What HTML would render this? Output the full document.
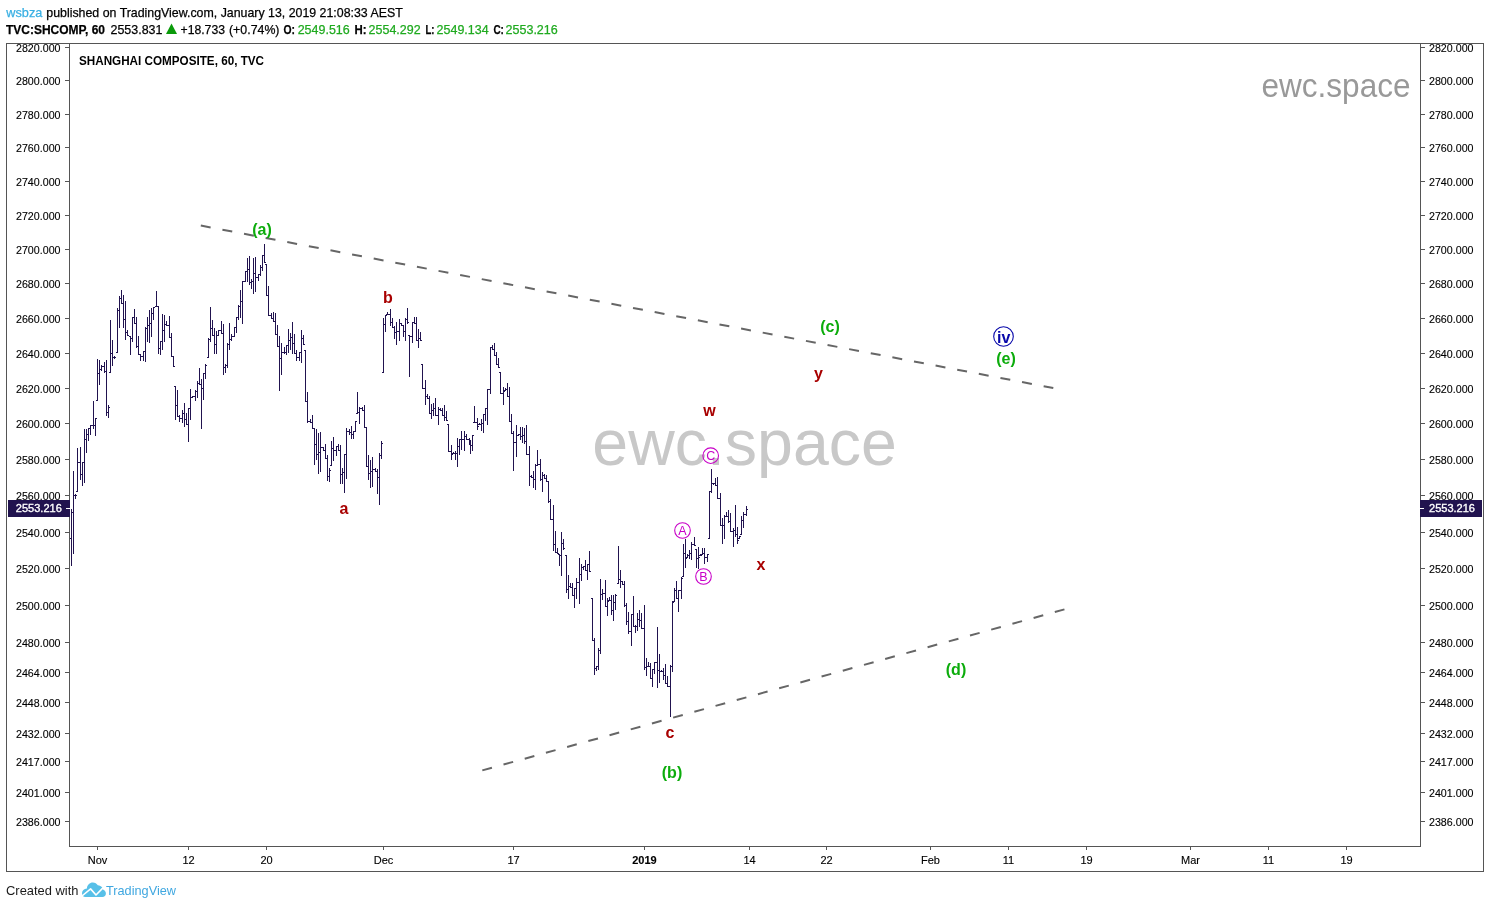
<!DOCTYPE html>
<html lang="en"><head><meta charset="utf-8"><title>TVC:SHCOMP chart by wsbza</title>
<style>html,body{margin:0;padding:0;background:#fff}body{width:1490px;height:908px;overflow:hidden}svg{display:block}text{font-family:"Liberation Sans",sans-serif}.ax{font-size:11px;fill:#000;stroke:#000;stroke-width:.12px}.hd{font-size:13px;fill:#000;stroke:#000;stroke-width:.25px}.b{font-weight:bold}.g{fill:#1faa1f;stroke:#1faa1f}.wave{font-size:16px;font-weight:bold}.circ{font-size:12.5px;fill:#c800c8}</style></head><body>
<svg width="1490" height="908" viewBox="0 0 1490 908">
<rect width="1490" height="908" fill="#ffffff"/>
<text x="6.3" y="16.5" class="hd" textLength="36" lengthAdjust="spacingAndGlyphs" style="fill:#38afe3;stroke:#38afe3">wsbza</text>
<text x="46.3" y="16.5" class="hd" textLength="356.5" lengthAdjust="spacingAndGlyphs">published on TradingView.com, January 13, 2019 21:08:33 AEST</text>
<text x="6" y="33.5" class="hd b" textLength="99" lengthAdjust="spacingAndGlyphs">TVC:SHCOMP, 60</text>
<text x="110.5" y="33.5" class="hd" textLength="52" lengthAdjust="spacingAndGlyphs">2553.831</text>
<path d="M171.5 23.5 L177 34 L166 34 Z" fill="#0a9a0a"/>
<text x="180.5" y="33.5" class="hd" textLength="44.5" lengthAdjust="spacingAndGlyphs">+18.733</text>
<text x="229" y="33.5" class="hd" textLength="50.5" lengthAdjust="spacingAndGlyphs">(+0.74%)</text>
<text x="283.5" y="33.5" class="hd b" textLength="11.5" lengthAdjust="spacingAndGlyphs">O:</text>
<text x="297.7" y="33.5" class="hd g" textLength="52" lengthAdjust="spacingAndGlyphs">2549.516</text>
<text x="354.5" y="33.5" class="hd b" textLength="12" lengthAdjust="spacingAndGlyphs">H:</text>
<text x="368.6" y="33.5" class="hd g" textLength="52" lengthAdjust="spacingAndGlyphs">2554.292</text>
<text x="425.4" y="33.5" class="hd b" textLength="9" lengthAdjust="spacingAndGlyphs">L:</text>
<text x="436.6" y="33.5" class="hd g" textLength="52" lengthAdjust="spacingAndGlyphs">2549.134</text>
<text x="493.4" y="33.5" class="hd b" textLength="10.5" lengthAdjust="spacingAndGlyphs">C:</text>
<text x="505.5" y="33.5" class="hd g" textLength="52.3" lengthAdjust="spacingAndGlyphs">2553.216</text>
<g fill="none" stroke="#555555" stroke-width="1" shape-rendering="crispEdges">
<rect x="6.5" y="43.5" width="1477" height="828"/>
<path d="M69.5 43.5V846.5H1420.5V43.5"/>
<path d="M65 47.5H69M1421 47.5H1425M65 80.5H69M1421 80.5H1425M65 114.5H69M1421 114.5H1425M65 147.5H69M1421 147.5H1425M65 181.5H69M1421 181.5H1425M65 215.5H69M1421 215.5H1425M65 249.5H69M1421 249.5H1425M65 283.5H69M1421 283.5H1425M65 318.5H69M1421 318.5H1425M65 353.5H69M1421 353.5H1425M65 388.5H69M1421 388.5H1425M65 423.5H69M1421 423.5H1425M65 459.5H69M1421 459.5H1425M65 495.5H69M1421 495.5H1425M65 532.5H69M1421 532.5H1425M65 568.5H69M1421 568.5H1425M65 605.5H69M1421 605.5H1425M65 642.5H69M1421 642.5H1425M65 672.5H69M1421 672.5H1425M65 702.5H69M1421 702.5H1425M65 733.5H69M1421 733.5H1425M65 761.5H69M1421 761.5H1425M65 792.5H69M1421 792.5H1425M65 821.5H69M1421 821.5H1425"/>
<path d="M97.5 847V850M188.5 847V850M266.5 847V850M383.5 847V850M513.5 847V850M644.5 847V850M749.5 847V850M826.5 847V850M930.5 847V850M1008.5 847V850M1086.5 847V850M1190.5 847V850M1268.5 847V850M1346.5 847V850"/>
</g>
<text x="60.5" y="52.0" class="ax" text-anchor="end" textLength="44.5" lengthAdjust="spacingAndGlyphs">2820.000</text>
<text x="1429" y="52.0" class="ax" textLength="44.5" lengthAdjust="spacingAndGlyphs">2820.000</text>
<text x="60.5" y="85.0" class="ax" text-anchor="end" textLength="44.5" lengthAdjust="spacingAndGlyphs">2800.000</text>
<text x="1429" y="85.0" class="ax" textLength="44.5" lengthAdjust="spacingAndGlyphs">2800.000</text>
<text x="60.5" y="119.0" class="ax" text-anchor="end" textLength="44.5" lengthAdjust="spacingAndGlyphs">2780.000</text>
<text x="1429" y="119.0" class="ax" textLength="44.5" lengthAdjust="spacingAndGlyphs">2780.000</text>
<text x="60.5" y="152.0" class="ax" text-anchor="end" textLength="44.5" lengthAdjust="spacingAndGlyphs">2760.000</text>
<text x="1429" y="152.0" class="ax" textLength="44.5" lengthAdjust="spacingAndGlyphs">2760.000</text>
<text x="60.5" y="186.0" class="ax" text-anchor="end" textLength="44.5" lengthAdjust="spacingAndGlyphs">2740.000</text>
<text x="1429" y="186.0" class="ax" textLength="44.5" lengthAdjust="spacingAndGlyphs">2740.000</text>
<text x="60.5" y="220.0" class="ax" text-anchor="end" textLength="44.5" lengthAdjust="spacingAndGlyphs">2720.000</text>
<text x="1429" y="220.0" class="ax" textLength="44.5" lengthAdjust="spacingAndGlyphs">2720.000</text>
<text x="60.5" y="254.0" class="ax" text-anchor="end" textLength="44.5" lengthAdjust="spacingAndGlyphs">2700.000</text>
<text x="1429" y="254.0" class="ax" textLength="44.5" lengthAdjust="spacingAndGlyphs">2700.000</text>
<text x="60.5" y="288.0" class="ax" text-anchor="end" textLength="44.5" lengthAdjust="spacingAndGlyphs">2680.000</text>
<text x="1429" y="288.0" class="ax" textLength="44.5" lengthAdjust="spacingAndGlyphs">2680.000</text>
<text x="60.5" y="323.0" class="ax" text-anchor="end" textLength="44.5" lengthAdjust="spacingAndGlyphs">2660.000</text>
<text x="1429" y="323.0" class="ax" textLength="44.5" lengthAdjust="spacingAndGlyphs">2660.000</text>
<text x="60.5" y="358.0" class="ax" text-anchor="end" textLength="44.5" lengthAdjust="spacingAndGlyphs">2640.000</text>
<text x="1429" y="358.0" class="ax" textLength="44.5" lengthAdjust="spacingAndGlyphs">2640.000</text>
<text x="60.5" y="393.0" class="ax" text-anchor="end" textLength="44.5" lengthAdjust="spacingAndGlyphs">2620.000</text>
<text x="1429" y="393.0" class="ax" textLength="44.5" lengthAdjust="spacingAndGlyphs">2620.000</text>
<text x="60.5" y="428.0" class="ax" text-anchor="end" textLength="44.5" lengthAdjust="spacingAndGlyphs">2600.000</text>
<text x="1429" y="428.0" class="ax" textLength="44.5" lengthAdjust="spacingAndGlyphs">2600.000</text>
<text x="60.5" y="464.0" class="ax" text-anchor="end" textLength="44.5" lengthAdjust="spacingAndGlyphs">2580.000</text>
<text x="1429" y="464.0" class="ax" textLength="44.5" lengthAdjust="spacingAndGlyphs">2580.000</text>
<text x="60.5" y="500.0" class="ax" text-anchor="end" textLength="44.5" lengthAdjust="spacingAndGlyphs">2560.000</text>
<text x="1429" y="500.0" class="ax" textLength="44.5" lengthAdjust="spacingAndGlyphs">2560.000</text>
<text x="60.5" y="537.0" class="ax" text-anchor="end" textLength="44.5" lengthAdjust="spacingAndGlyphs">2540.000</text>
<text x="1429" y="537.0" class="ax" textLength="44.5" lengthAdjust="spacingAndGlyphs">2540.000</text>
<text x="60.5" y="573.0" class="ax" text-anchor="end" textLength="44.5" lengthAdjust="spacingAndGlyphs">2520.000</text>
<text x="1429" y="573.0" class="ax" textLength="44.5" lengthAdjust="spacingAndGlyphs">2520.000</text>
<text x="60.5" y="610.0" class="ax" text-anchor="end" textLength="44.5" lengthAdjust="spacingAndGlyphs">2500.000</text>
<text x="1429" y="610.0" class="ax" textLength="44.5" lengthAdjust="spacingAndGlyphs">2500.000</text>
<text x="60.5" y="647.0" class="ax" text-anchor="end" textLength="44.5" lengthAdjust="spacingAndGlyphs">2480.000</text>
<text x="1429" y="647.0" class="ax" textLength="44.5" lengthAdjust="spacingAndGlyphs">2480.000</text>
<text x="60.5" y="677.0" class="ax" text-anchor="end" textLength="44.5" lengthAdjust="spacingAndGlyphs">2464.000</text>
<text x="1429" y="677.0" class="ax" textLength="44.5" lengthAdjust="spacingAndGlyphs">2464.000</text>
<text x="60.5" y="707.0" class="ax" text-anchor="end" textLength="44.5" lengthAdjust="spacingAndGlyphs">2448.000</text>
<text x="1429" y="707.0" class="ax" textLength="44.5" lengthAdjust="spacingAndGlyphs">2448.000</text>
<text x="60.5" y="738.0" class="ax" text-anchor="end" textLength="44.5" lengthAdjust="spacingAndGlyphs">2432.000</text>
<text x="1429" y="738.0" class="ax" textLength="44.5" lengthAdjust="spacingAndGlyphs">2432.000</text>
<text x="60.5" y="766.0" class="ax" text-anchor="end" textLength="44.5" lengthAdjust="spacingAndGlyphs">2417.000</text>
<text x="1429" y="766.0" class="ax" textLength="44.5" lengthAdjust="spacingAndGlyphs">2417.000</text>
<text x="60.5" y="797.0" class="ax" text-anchor="end" textLength="44.5" lengthAdjust="spacingAndGlyphs">2401.000</text>
<text x="1429" y="797.0" class="ax" textLength="44.5" lengthAdjust="spacingAndGlyphs">2401.000</text>
<text x="60.5" y="826.0" class="ax" text-anchor="end" textLength="44.5" lengthAdjust="spacingAndGlyphs">2386.000</text>
<text x="1429" y="826.0" class="ax" textLength="44.5" lengthAdjust="spacingAndGlyphs">2386.000</text>
<text x="97.5" y="864" class="ax" text-anchor="middle">Nov</text>
<text x="188.5" y="864" class="ax" text-anchor="middle">12</text>
<text x="266.5" y="864" class="ax" text-anchor="middle">20</text>
<text x="383.5" y="864" class="ax" text-anchor="middle">Dec</text>
<text x="513.5" y="864" class="ax" text-anchor="middle">17</text>
<text x="644.5" y="864" class="ax b" text-anchor="middle">2019</text>
<text x="749.5" y="864" class="ax" text-anchor="middle">14</text>
<text x="826.5" y="864" class="ax" text-anchor="middle">22</text>
<text x="930.5" y="864" class="ax" text-anchor="middle">Feb</text>
<text x="1008.5" y="864" class="ax" text-anchor="middle">11</text>
<text x="1086.5" y="864" class="ax" text-anchor="middle">19</text>
<text x="1190.5" y="864" class="ax" text-anchor="middle">Mar</text>
<text x="1268.5" y="864" class="ax" text-anchor="middle">11</text>
<text x="1346.5" y="864" class="ax" text-anchor="middle">19</text>
<text x="79" y="65" class="b" textLength="185" lengthAdjust="spacingAndGlyphs" style="font-size:12.5px;fill:#000">SHANGHAI COMPOSITE, 60, TVC</text>
<text x="592.3" y="465.3" textLength="304.5" lengthAdjust="spacingAndGlyphs" style="font-size:64px;fill:#c8c8c8">ewc.space</text>
<text x="1261.5" y="97" textLength="149" lengthAdjust="spacingAndGlyphs" style="font-size:33px;fill:#999999">ewc.space</text>
<g stroke="#666666" stroke-width="2" stroke-dasharray="10 12" fill="none">
<path d="M200.8 225.6L1053.3 388"/>
<path d="M482.3 770.4L1064.8 609.3"/>
</g>
<path d="M71.5 509V566M70.0 538.5H71.5M71.5 512.5H73.0M73.5 471V554M72.0 512.5H73.5M73.5 495.5H75.0M75.5 494V499M74.0 495.5H75.5M75.5 495.5H77.0M77.5 448V492M76.0 491.5H77.5M77.5 462.5H79.0M80.5 447V480M79.0 462.5H80.5M80.5 474.5H82.0M82.5 462V486M81.0 474.5H82.5M82.5 462.5H84.0M84.5 429V483M83.0 462.5H84.5M84.5 439.5H86.0M86.5 429V453M85.0 439.5H86.5M86.5 434.5H88.0M88.5 428V441M87.0 434.5H88.5M88.5 428.5H90.0M90.5 425V435M89.0 428.5H90.5M90.5 425.5H92.0M93.5 401V429M92.0 425.5H93.5M93.5 425.5H95.0M95.5 418V436M94.0 425.5H95.5M95.5 418.5H97.0M97.5 359V401M96.0 400.5H97.5M97.5 373.5H99.0M99.5 360V385M98.0 373.5H99.5M99.5 369.5H101.0M101.5 365V371M100.0 369.5H101.5M101.5 366.5H103.0M104.5 362V373M103.0 366.5H104.5M104.5 371.5H106.0M106.5 360V416M105.0 371.5H106.5M106.5 412.5H108.0M108.5 405V418M107.0 412.5H108.5M108.5 407.5H110.0M110.5 320V373M109.0 372.5H110.5M110.5 353.5H112.0M112.5 340V366M111.0 353.5H112.5M112.5 357.5H114.0M114.5 356V359M113.0 357.5H114.5M114.5 357.5H116.0M117.5 308V353M116.0 352.5H117.5M117.5 310.5H119.0M119.5 296V328M118.0 310.5H119.5M119.5 298.5H121.0M121.5 290V304M120.0 298.5H121.5M121.5 303.5H123.0M123.5 295V328M122.0 303.5H123.5M123.5 319.5H125.0M125.5 301V340M124.0 319.5H125.5M125.5 332.5H127.0M127.5 330V336M126.0 332.5H127.5M127.5 335.5H129.0M130.5 336V355M129.0 336.5H130.5M130.5 338.5H132.0M132.5 317V342M131.0 338.5H132.5M132.5 317.5H134.0M134.5 309V324M133.0 317.5H134.5M134.5 323.5H136.0M136.5 317V348M135.0 323.5H136.5M136.5 346.5H138.0M138.5 336V355M137.0 346.5H138.5M138.5 354.5H140.0M140.5 354V361M139.0 354.5H140.5M140.5 356.5H142.0M143.5 351V361M142.0 356.5H143.5M143.5 351.5H145.0M145.5 327V362M144.0 351.5H145.5M145.5 328.5H147.0M147.5 317V342M146.0 328.5H147.5M147.5 325.5H149.0M149.5 310V343M148.0 325.5H149.5M149.5 323.5H151.0M151.5 308V337M150.0 323.5H151.5M151.5 313.5H153.0M153.5 307V320M152.0 313.5H153.5M153.5 307.5H155.0M156.5 291V307M155.0 306.5H156.5M156.5 306.5H158.0M158.5 306V354M157.0 306.5H158.5M158.5 348.5H160.0M160.5 341V355M159.0 348.5H160.5M160.5 341.5H162.0M162.5 314V350M161.0 341.5H162.5M162.5 330.5H164.0M164.5 315V342M163.0 330.5H164.5M164.5 324.5H166.0M166.5 321V326M165.0 324.5H166.5M166.5 325.5H168.0M169.5 316V338M168.0 325.5H169.5M169.5 337.5H171.0M171.5 333V357M170.0 337.5H171.5M171.5 356.5H173.0M173.5 356V367M172.0 356.5H173.5M173.5 366.5H175.0M175.5 386V420M174.0 386.5H175.5M175.5 405.5H177.0M177.5 390V417M176.0 405.5H177.5M177.5 416.5H179.0M179.5 415V422M178.0 416.5H179.5M179.5 418.5H181.0M182.5 410V423M181.0 418.5H182.5M182.5 413.5H184.0M184.5 403V427M183.0 413.5H184.5M184.5 419.5H186.0M186.5 413V425M185.0 419.5H186.5M186.5 424.5H188.0M188.5 408V442M187.0 424.5H188.5M188.5 408.5H190.0M190.5 389V420M189.0 408.5H190.5M190.5 397.5H192.0M192.5 396V398M191.0 397.5H192.5M192.5 396.5H194.0M195.5 390V401M194.0 396.5H195.5M195.5 391.5H197.0M197.5 381V398M196.0 391.5H197.5M197.5 383.5H199.0M199.5 368V385M198.0 383.5H199.5M199.5 384.5H201.0M201.5 379V429M200.0 384.5H201.5M201.5 388.5H203.0M203.5 373V400M202.0 388.5H203.5M203.5 373.5H205.0M205.5 364V379M204.0 373.5H205.5M205.5 365.5H207.0M208.5 338V358M207.0 357.5H208.5M208.5 339.5H210.0M210.5 307V342M209.0 339.5H210.5M210.5 328.5H212.0M212.5 320V336M211.0 328.5H212.5M212.5 335.5H214.0M214.5 328V354M213.0 335.5H214.5M214.5 344.5H216.0M216.5 331V354M215.0 344.5H216.5M216.5 335.5H218.0M218.5 330V336M217.0 335.5H218.5M218.5 330.5H220.0M221.5 321V334M220.0 330.5H221.5M221.5 333.5H223.0M223.5 324V375M222.0 333.5H223.5M223.5 367.5H225.0M225.5 364V373M224.0 367.5H225.5M225.5 365.5H227.0M227.5 343V368M226.0 365.5H227.5M227.5 344.5H229.0M229.5 323V350M228.0 344.5H229.5M229.5 339.5H231.0M231.5 334V341M230.0 339.5H231.5M231.5 336.5H233.0M234.5 327V337M233.0 336.5H234.5M234.5 327.5H236.0M236.5 317V333M235.0 327.5H236.5M236.5 317.5H238.0M238.5 305V320M237.0 317.5H238.5M238.5 306.5H240.0M240.5 290V318M239.0 306.5H240.5M240.5 301.5H242.0M242.5 281V324M241.0 301.5H242.5M242.5 281.5H244.0M245.5 271V282M244.0 281.5H245.5M245.5 271.5H247.0M247.5 258V282M246.0 271.5H247.5M247.5 269.5H249.0M249.5 256V285M248.0 269.5H249.5M249.5 282.5H251.0M251.5 279V289M250.0 282.5H251.5M251.5 281.5H253.0M253.5 258V294M252.0 281.5H253.5M253.5 273.5H255.0M255.5 257V292M254.0 273.5H255.5M255.5 277.5H257.0M258.5 274V281M257.0 277.5H258.5M258.5 274.5H260.0M260.5 265V276M259.0 274.5H260.5M260.5 267.5H262.0M262.5 255V271M261.0 267.5H262.5M262.5 255.5H264.0M264.5 244V263M263.0 255.5H264.5M264.5 262.5H266.0M266.5 264V296M265.0 264.5H266.5M266.5 295.5H268.0M268.5 286V316M267.0 295.5H268.5M268.5 315.5H270.0M271.5 313V319M270.0 315.5H271.5M271.5 318.5H273.0M273.5 312V322M272.0 318.5H273.5M273.5 321.5H275.0M275.5 313V335M274.0 321.5H275.5M275.5 334.5H277.0M277.5 325V347M276.0 334.5H277.5M277.5 346.5H279.0M279.5 336V391M278.0 346.5H279.5M279.5 358.5H281.0M281.5 343V375M280.0 358.5H281.5M281.5 352.5H283.0M284.5 347V354M283.0 352.5H284.5M284.5 352.5H286.0M286.5 345V355M285.0 352.5H286.5M286.5 345.5H288.0M288.5 329V353M287.0 345.5H288.5M288.5 340.5H290.0M290.5 333V350M289.0 340.5H290.5M290.5 337.5H292.0M292.5 322V354M291.0 337.5H292.5M292.5 343.5H294.0M294.5 334V354M293.0 343.5H294.5M294.5 353.5H296.0M296.5 350V361M295.0 353.5H296.5M296.5 357.5H298.0M299.5 352V361M298.0 357.5H299.5M299.5 352.5H301.0M301.5 330V363M300.0 352.5H301.5M301.5 338.5H303.0M303.5 335V345M302.0 338.5H303.5M303.5 344.5H305.0M305.5 350V402M304.0 350.5H305.5M305.5 401.5H307.0M307.5 392V423M306.0 401.5H307.5M307.5 421.5H309.0M310.5 419V423M309.0 421.5H310.5M310.5 422.5H312.0M312.5 415V429M311.0 422.5H312.5M312.5 428.5H314.0M314.5 428V465M313.0 428.5H314.5M314.5 444.5H316.0M316.5 429V460M315.0 444.5H316.5M316.5 454.5H318.0M318.5 433V474M317.0 454.5H318.5M318.5 452.5H320.0M320.5 432V472M319.0 452.5H320.5M320.5 447.5H322.0M323.5 447V451M322.0 447.5H323.5M323.5 450.5H325.0M325.5 444V459M324.0 450.5H325.5M325.5 458.5H327.0M327.5 455V481M326.0 458.5H327.5M327.5 476.5H329.0M329.5 468V482M328.0 476.5H329.5M329.5 470.5H331.0M331.5 441V466M330.0 465.5H331.5M331.5 448.5H333.0M333.5 437V461M332.0 448.5H333.5M333.5 450.5H335.0M336.5 446V456M335.0 450.5H336.5M336.5 446.5H338.0M338.5 444V451M337.0 446.5H338.5M338.5 450.5H340.0M340.5 445V484M339.0 450.5H340.5M340.5 474.5H342.0M342.5 468V484M341.0 474.5H342.5M342.5 472.5H344.0M344.5 454V493M343.0 472.5H344.5M344.5 454.5H346.0M346.5 428V479M345.0 454.5H346.5M346.5 431.5H348.0M349.5 429V435M348.0 431.5H349.5M349.5 432.5H351.0M351.5 426V439M350.0 432.5H351.5M351.5 434.5H353.0M353.5 431V439M352.0 434.5H353.5M353.5 431.5H355.0M355.5 421V432M354.0 431.5H355.5M355.5 421.5H357.0M357.5 392V414M356.0 413.5H357.5M357.5 412.5H359.0M359.5 407V424M358.0 412.5H359.5M359.5 408.5H361.0M362.5 407V411M361.0 408.5H362.5M362.5 410.5H364.0M364.5 405V428M363.0 410.5H364.5M364.5 427.5H366.0M366.5 427V467M365.0 427.5H366.5M366.5 466.5H368.0M368.5 455V480M367.0 466.5H368.5M368.5 473.5H370.0M370.5 460V488M369.0 473.5H370.5M370.5 471.5H372.0M372.5 457V487M371.0 471.5H372.5M372.5 469.5H374.0M375.5 468V472M374.0 469.5H375.5M375.5 471.5H377.0M377.5 469V494M376.0 471.5H377.5M377.5 477.5H379.0M379.5 453V505M378.0 477.5H379.5M379.5 455.5H381.0M381.5 441V459M380.0 455.5H381.5M381.5 443.5H383.0M383.5 318V373M382.0 372.5H383.5M383.5 324.5H385.0M385.5 315V332M384.0 324.5H385.5M385.5 315.5H387.0M387.5 312V315M386.0 314.5H387.5M387.5 314.5H389.0M390.5 309V326M389.0 314.5H390.5M390.5 322.5H392.0M392.5 318V328M391.0 322.5H392.5M392.5 327.5H394.0M394.5 326V339M393.0 327.5H394.5M394.5 332.5H396.0M396.5 322V345M395.0 332.5H396.5M396.5 331.5H398.0M399.5 319V341M398.0 331.5H399.5M399.5 323.5H401.0M401.5 323V326M400.0 323.5H401.5M401.5 325.5H403.0M403.5 325V337M402.0 325.5H403.5M403.5 331.5H405.0M405.5 318V341M404.0 331.5H405.5M405.5 319.5H407.0M407.5 308V324M406.0 319.5H407.5M407.5 322.5H409.0M409.5 335V377M408.0 335.5H409.5M409.5 336.5H411.0M412.5 322V343M411.0 336.5H412.5M412.5 322.5H414.0M414.5 317V324M413.0 322.5H414.5M414.5 323.5H416.0M416.5 317V341M415.0 323.5H416.5M416.5 340.5H418.0M418.5 329V348M417.0 340.5H418.5M418.5 338.5H420.0M420.5 332V341M419.0 338.5H420.5M420.5 340.5H422.0M422.5 364V389M421.0 364.5H422.5M422.5 388.5H424.0M425.5 380V405M424.0 388.5H425.5M425.5 396.5H427.0M427.5 394V399M426.0 396.5H427.5M427.5 398.5H429.0M429.5 396V414M428.0 398.5H429.5M429.5 413.5H431.0M431.5 404V419M430.0 413.5H431.5M431.5 410.5H433.0M433.5 403V416M432.0 410.5H433.5M433.5 408.5H435.0M435.5 398V416M434.0 408.5H435.5M435.5 415.5H437.0M438.5 407V425M437.0 415.5H438.5M438.5 409.5H440.0M440.5 408V411M439.0 409.5H440.5M440.5 410.5H442.0M442.5 408V416M441.0 410.5H442.5M442.5 415.5H444.0M444.5 405V421M443.0 415.5H444.5M444.5 417.5H446.0M446.5 411V421M445.0 417.5H446.5M446.5 420.5H448.0M448.5 424V452M447.0 424.5H448.5M448.5 451.5H450.0M451.5 445V460M450.0 451.5H451.5M451.5 454.5H453.0M453.5 452V454M452.0 453.5H453.5M453.5 453.5H455.0M455.5 451V460M454.0 453.5H455.5M455.5 453.5H457.0M457.5 438V467M456.0 453.5H457.5M457.5 446.5H459.0M459.5 439V455M458.0 446.5H459.5M459.5 439.5H461.0M461.5 431V450M460.0 439.5H461.5M461.5 439.5H463.0M464.5 431V451M463.0 439.5H464.5M464.5 436.5H466.0M466.5 434V440M465.0 436.5H466.5M466.5 439.5H468.0M469.5 438V445M468.0 439.5H469.5M469.5 444.5H471.0M470.5 440V454M469.0 444.5H470.5M470.5 445.5H472.0M472.5 435V451M471.0 445.5H472.5M472.5 435.5H474.0M474.5 406V423M473.0 422.5H474.5M474.5 422.5H476.0M477.5 418V430M476.0 422.5H477.5M477.5 426.5H479.0M479.5 423V425M478.0 424.5H479.5M479.5 424.5H481.0M481.5 419V431M480.0 424.5H481.5M481.5 423.5H483.0M483.5 414V433M482.0 423.5H483.5M483.5 414.5H485.0M485.5 408V421M484.0 414.5H485.5M485.5 408.5H487.0M487.5 389V425M486.0 408.5H487.5M487.5 389.5H489.0M490.5 347V394M489.0 389.5H490.5M490.5 347.5H492.0M492.5 345V350M491.0 347.5H492.5M492.5 349.5H494.0M494.5 343V356M493.0 349.5H494.5M494.5 355.5H496.0M496.5 352V365M495.0 355.5H496.5M496.5 364.5H498.0M498.5 358V368M497.0 364.5H498.5M498.5 367.5H500.0M500.5 372V394M499.0 372.5H500.5M500.5 393.5H502.0M503.5 387V405M502.0 393.5H503.5M503.5 391.5H505.0M505.5 388V391M504.0 390.5H505.5M505.5 389.5H507.0M507.5 383V397M506.0 389.5H507.5M507.5 396.5H509.0M509.5 387V422M508.0 396.5H509.5M509.5 421.5H511.0M511.5 414V434M510.0 421.5H511.5M511.5 433.5H513.0M513.5 431V471M512.0 433.5H513.5M513.5 442.5H515.0M516.5 425V457M515.0 442.5H516.5M516.5 435.5H518.0M518.5 434V436M517.0 435.5H518.5M518.5 434.5H520.0M520.5 427V440M519.0 434.5H520.5M520.5 436.5H522.0M522.5 427V443M521.0 436.5H522.5M522.5 435.5H524.0M524.5 428V444M523.0 435.5H524.5M524.5 441.5H526.0M526.5 425V455M525.0 441.5H526.5M526.5 454.5H528.0M529.5 446V486M528.0 454.5H529.5M529.5 476.5H531.0M531.5 475V478M530.0 476.5H531.5M531.5 477.5H533.0M533.5 471V488M532.0 477.5H533.5M533.5 479.5H535.0M535.5 464V490M534.0 479.5H535.5M535.5 465.5H537.0M537.5 450V466M536.0 465.5H537.5M537.5 464.5H539.0M540.5 459V481M539.0 464.5H540.5M540.5 479.5H542.0M542.5 472V492M541.0 479.5H542.5M542.5 475.5H544.0M544.5 474V479M543.0 475.5H544.5M544.5 478.5H546.0M546.5 475V482M545.0 478.5H546.5M546.5 481.5H548.0M548.5 481V503M547.0 481.5H548.5M548.5 501.5H550.0M550.5 499V520M549.0 501.5H550.5M550.5 519.5H552.0M553.5 505V551M552.0 519.5H553.5M553.5 544.5H555.0M555.5 531V553M554.0 544.5H555.5M555.5 552.5H557.0M557.5 548V554M556.0 552.5H557.5M557.5 553.5H559.0M559.5 554V566M558.0 554.5H559.5M559.5 555.5H561.0M561.5 532V576M560.0 555.5H561.5M561.5 543.5H563.0M563.5 539V550M562.0 543.5H563.5M563.5 548.5H565.0M566.5 555V593M565.0 555.5H566.5M566.5 589.5H568.0M568.5 575V599M567.0 589.5H568.5M568.5 586.5H570.0M570.5 583V588M569.0 586.5H570.5M570.5 587.5H572.0M572.5 583V596M571.0 587.5H572.5M572.5 595.5H574.0M574.5 588V608M573.0 595.5H574.5M574.5 588.5H576.0M576.5 578V599M575.0 588.5H576.5M576.5 582.5H578.0M579.5 558V604M578.0 582.5H579.5M579.5 574.5H581.0M581.5 564V581M580.0 574.5H581.5M581.5 567.5H583.0M583.5 566V570M582.0 567.5H583.5M583.5 566.5H585.0M585.5 560V571M584.0 566.5H585.5M585.5 570.5H587.0M587.5 564V580M586.0 570.5H587.5M587.5 564.5H589.0M589.5 551V572M588.0 564.5H589.5M589.5 571.5H591.0M592.5 598V641M591.0 598.5H592.5M592.5 640.5H594.0M594.5 638V675M593.0 640.5H594.5M594.5 668.5H596.0M596.5 666V671M595.0 668.5H596.5M596.5 666.5H598.0M598.5 648V670M597.0 666.5H598.5M598.5 650.5H600.0M600.5 579V654M599.0 650.5H600.5M600.5 594.5H602.0M602.5 589V600M601.0 594.5H602.5M602.5 593.5H604.0M605.5 580V607M604.0 593.5H605.5M605.5 606.5H607.0M607.5 598V616M606.0 606.5H607.5M607.5 601.5H609.0M609.5 597V601M608.0 600.5H609.5M609.5 600.5H611.0M611.5 595V615M610.0 600.5H611.5M611.5 610.5H613.0M613.5 595V621M612.0 610.5H613.5M613.5 602.5H615.0M615.5 594V610M614.0 602.5H615.5M615.5 595.5H617.0M618.5 546V584M617.0 583.5H618.5M618.5 579.5H620.0M620.5 570V588M619.0 579.5H620.5M620.5 581.5H622.0M622.5 581V585M621.0 581.5H622.5M622.5 584.5H624.0M624.5 581V607M623.0 584.5H624.5M624.5 605.5H626.0M626.5 603V625M625.0 605.5H626.5M626.5 621.5H628.0M628.5 612V634M627.0 621.5H628.5M628.5 631.5H630.0M631.5 614V646M630.0 631.5H631.5M631.5 614.5H633.0M633.5 596V627M632.0 614.5H633.5M633.5 626.5H635.0M635.5 625V633M634.0 626.5H635.5M635.5 626.5H637.0M637.5 613V631M636.0 626.5H637.5M637.5 619.5H639.0M639.5 610V627M638.0 619.5H639.5M639.5 620.5H641.0M641.5 613V629M640.0 620.5H641.5M641.5 628.5H643.0M644.5 605V670M643.0 628.5H644.5M644.5 667.5H646.0M646.5 658V676M645.0 667.5H646.5M646.5 666.5H648.0M648.5 662V667M647.0 666.5H648.5M648.5 666.5H650.0M650.5 663V679M649.0 666.5H650.5M650.5 678.5H652.0M652.5 669V687M651.0 678.5H652.5M652.5 669.5H654.0M654.5 662V674M653.0 669.5H654.5M654.5 662.5H656.0M657.5 627V688M656.0 662.5H657.5M657.5 670.5H659.0M659.5 654V683M658.0 670.5H659.5M659.5 671.5H661.0M661.5 670V672M660.0 671.5H661.5M661.5 671.5H663.0M663.5 668V680M662.0 671.5H663.5M663.5 675.5H665.0M665.5 664V684M664.0 675.5H665.5M665.5 683.5H667.0M667.5 676V687M666.0 683.5H667.5M667.5 686.5H669.0M670.5 665V717M669.0 686.5H670.5M670.5 666.5H672.0M672.5 601V672M671.0 666.5H672.5M672.5 602.5H674.0M674.5 588V602M673.0 601.5H674.5M674.5 590.5H676.0M676.5 581V599M675.0 590.5H676.5M676.5 598.5H678.0M678.5 590V612M677.0 598.5H678.5M678.5 590.5H680.0M681.5 577V599M680.0 590.5H681.5M681.5 578.5H683.0M683.5 544V577M682.0 576.5H683.5M683.5 553.5H685.0M685.5 539V568M684.0 553.5H685.5M685.5 558.5H687.0M687.5 554V558M686.0 557.5H687.5M687.5 555.5H689.0M689.5 550V559M688.0 555.5H689.5M689.5 553.5H691.0M691.5 542V560M690.0 553.5H691.5M691.5 544.5H693.0M694.5 537V546M693.0 544.5H694.5M694.5 545.5H696.0M696.5 549V568M695.0 549.5H696.5M696.5 558.5H698.0M698.5 547V569M697.0 558.5H698.5M698.5 557.5H700.0M700.5 554V556M699.0 555.5H700.5M700.5 555.5H702.0M702.5 548V555M701.0 554.5H702.5M702.5 553.5H704.0M704.5 548V564M703.0 553.5H704.5M704.5 557.5H706.0M707.5 554V562M706.0 557.5H707.5M707.5 554.5H709.0M709.5 491V539M708.0 538.5H709.5M709.5 491.5H711.0M711.5 469V493M710.0 491.5H711.5M711.5 483.5H713.0M713.5 483V485M712.0 483.5H713.5M713.5 483.5H715.0M715.5 478V486M714.0 483.5H715.5M715.5 485.5H717.0M717.5 477V499M716.0 485.5H717.5M717.5 498.5H719.0M720.5 493V526M719.0 498.5H720.5M720.5 525.5H722.0M722.5 518V544M721.0 525.5H722.5M722.5 525.5H724.0M724.5 515V539M723.0 525.5H724.5M724.5 516.5H726.0M726.5 512V517M725.0 516.5H726.5M726.5 516.5H728.0M728.5 510V523M727.0 516.5H728.5M728.5 521.5H730.0M730.5 513V532M729.0 521.5H730.5M730.5 531.5H732.0M733.5 528V547M732.0 531.5H733.5M733.5 530.5H735.0M735.5 505V537M734.0 530.5H735.5M735.5 534.5H737.0M737.5 527V544M736.0 534.5H737.5M737.5 540.5H739.0M739.5 536V539M738.0 538.5H739.5M739.5 536.5H741.0M741.5 516V535M740.0 534.5H741.5M741.5 520.5H743.0M743.5 512V528M742.0 520.5H743.5M743.5 514.5H745.0M746.5 506V516M745.0 514.5H746.5M746.5 509.5H748.0" stroke="#21134f" stroke-width="1" fill="none" shape-rendering="crispEdges"/>
<text x="262" y="234.5" class="wave" text-anchor="middle" style="fill:#0cac0c">(a)</text>
<text x="388" y="303" class="wave" text-anchor="middle" style="fill:#a80000">b</text>
<text x="344" y="513.5" class="wave" text-anchor="middle" style="fill:#a80000">a</text>
<text x="830" y="331.5" class="wave" text-anchor="middle" style="fill:#0cac0c">(c)</text>
<text x="818.5" y="379" class="wave" text-anchor="middle" style="fill:#a80000">y</text>
<text x="709.5" y="415.5" class="wave" text-anchor="middle" style="fill:#a80000">w</text>
<text x="761" y="569.5" class="wave" text-anchor="middle" style="fill:#a80000">x</text>
<text x="670" y="737.5" class="wave" text-anchor="middle" style="fill:#a80000">c</text>
<text x="672" y="778" class="wave" text-anchor="middle" style="fill:#0cac0c">(b)</text>
<text x="956" y="675" class="wave" text-anchor="middle" style="fill:#0cac0c">(d)</text>
<text x="1006" y="363.5" class="wave" text-anchor="middle" style="fill:#0cac0c">(e)</text>
<circle cx="1003.5" cy="336.5" r="9.8" fill="none" stroke="#0808aa" stroke-width="1.1"/>
<text x="1003.7" y="343" class="wave" text-anchor="middle" style="fill:#0808aa">iv</text>
<circle cx="682.5" cy="530.5" r="7.8" fill="none" stroke="#c800c8" stroke-width="1.1"/>
<text x="682.5" y="534.8" class="circ" text-anchor="middle">A</text>
<circle cx="703.5" cy="576.5" r="7.8" fill="none" stroke="#c800c8" stroke-width="1.1"/>
<text x="703.5" y="580.8" class="circ" text-anchor="middle">B</text>
<circle cx="710.7" cy="455.7" r="7.8" fill="none" stroke="#c800c8" stroke-width="1.1"/>
<text x="710.7" y="460.0" class="circ" text-anchor="middle">C</text>
<rect x="8" y="500" width="62" height="17" fill="#21134f"/>
<rect x="1420" y="500" width="62" height="17" fill="#21134f"/>
<path d="M66 508.5H70M1420 508.5H1424" stroke="#fff" stroke-width="1" shape-rendering="crispEdges"/>
<text x="61.8" y="512" class="ax" text-anchor="end" textLength="46" lengthAdjust="spacingAndGlyphs" style="fill:#fff;stroke:#fff;stroke-width:.35px">2553.216</text>
<text x="1429" y="512" class="ax" textLength="46" lengthAdjust="spacingAndGlyphs" style="fill:#fff;stroke:#fff;stroke-width:.35px">2553.216</text>
<text x="6" y="894.5" textLength="72.5" lengthAdjust="spacingAndGlyphs" style="font-size:13.5px;fill:#1a1a1a">Created with</text>
<g transform="translate(78,878)">
<path d="M7.3 19.1C5 19.1 4 17 4 15.2C4 12.5 6 10.6 8.9 10.4C9.2 7 11.6 4.6 14.8 4.6C17 4.6 18.8 5.8 19.8 7.3C21.5 7.6 23.4 8.4 24.4 9.6L25 11.6C27 12.6 27.9 14 27.9 15.6C27.9 17.6 26.4 19.1 24.4 19.1Z" fill="#58c0e8"/>
<path d="M4 18L12.6 10.9L18 17L25.2 9.6" fill="none" stroke="#fff" stroke-width="1.6" stroke-linejoin="round"/>
</g>
<text x="106" y="894.5" textLength="70" lengthAdjust="spacingAndGlyphs" style="font-size:13.5px;fill:#3fa7e0">TradingView</text>
</svg></body></html>
